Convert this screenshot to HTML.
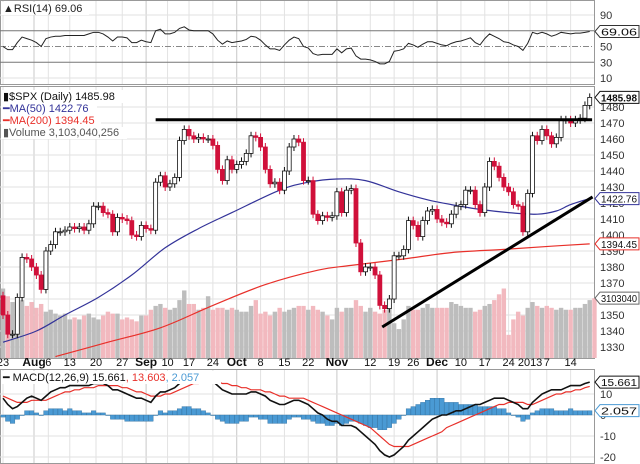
<!DOCTYPE html>
<html><head><meta charset="utf-8"><style>
body{margin:0;background:#fff;}
svg{display:block;font-family:"Liberation Sans",sans-serif;}
</style></head><body>
<svg id="c" width="640" height="464" viewBox="0 0 640 464"></svg>
<script>
const closes=[1350,1338,1338,1361,1386, 1385,1380,1375,1366,1390, 1394,1402,1402,1403,1405, 1404,1405,1403,1407,1418, 1418,1414,1413,1402,1411, 1410,1409,1400,1399,1406, 1404,1403,1433,1437, 1430,1432,1436,1459,1466, 1462,1460,1461,1460,1460, 1456,1441,1434,1447,1441, 1444,1446,1451,1462,1461, 1455,1441,1432,1433,1428, 1440,1455,1460,1458,1434, 1434,1413,1409,1412,1411, 1412,1427,1414, 1428,1429,1395,1377,1380, 1380,1375,1356,1354,1360, 1387,1387,1391,1409, 1406,1399,1409,1415,1416, 1410,1408,1407,1413,1418, 1419,1428,1428,1419,1414, 1430,1446,1443,1436,1430, 1427,1419,1418,1402, 1426,1462,1459,1466, 1462,1457,1461,1472,1472, 1470,1472,1473,1481,1486];
const volumes=[3.6,3.2,2.9,2.6,3.0, 2.7,2.9,2.6,2.8,2.4, 2.5,2.3,2.2,2.3,2.0, 2.1,2.0,2.2,2.3,2.1, 2.0,2.2,2.4,2.3,2.3, 2.0,2.1,2.0,1.9,2.2, 2.2,2.5,2.7,2.8, 2.6,2.5,2.6,3.0,3.5, 2.8,2.8,2.5,2.6,3.2, 2.5,2.6,2.6,2.5,2.6, 2.5,2.4,2.4,2.7,3.0, 2.3,2.4,2.2,2.4,2.6, 2.4,2.5,2.6,2.7,2.7, 2.5,2.7,2.5,2.4,2.2, 2.0,2.6,2.4, 2.6,2.6,3.0,2.7,2.4, 2.6,2.4,2.3,2.5,2.8, 1.8,1.5,2.0,2.7, 2.5,2.5,2.6,2.8,2.6, 2.6,2.6,2.6,2.9,2.8, 2.7,2.6,2.6,2.4,2.5, 2.7,2.8,3.0,3.3,3.6, 1.2,2.0,2.4,2.2, 2.6,2.9,2.7,2.6,2.7, 2.6,2.5,2.6,2.5,2.5, 2.6,2.6,2.8,3.0,3.1];
const ma50Days=[0,7,13,20,27,34,41,48,58,64,70,76,83,89,94,100,106,112,116,119,123];
const ma50Vals=[1333,1340,1350,1361,1375,1392,1404,1414,1428,1433,1435,1434,1427,1422,1419,1416,1414,1413,1415,1419,1422.76];
const ma200Days=[11,22,33,44,55,66,73,84,94,105,115,123];
const ma200Vals=[1324,1333,1342,1356,1369,1378,1381,1385,1389,1391,1393,1394.45];
const rsi=[50,46,46,55,62, 60,58,55,50,60, 62,63,63,64,64, 64,64,64,66,68, 68,66,62,57,62, 62,61,55,55,58, 56,55,70,72, 66,66,68,73,75, 71,70,70,70,70, 66,58,53,57,55, 56,57,59,63,62, 58,52,47,47,45, 52,58,62,60,50, 48,41,39,40,40, 40,47,42, 47,48,38,34,34, 33,31,28,28,31, 44,45,47,54, 52,49,53,56,56, 54,52,51,54,56, 57,59,61,55,52, 60,66,63,60,56, 55,52,50,45, 54,68,66,68, 66,63,65,68,67, 66,67,67,68,69.06];
const macd=[8,5,3,4,6, 8,9,8,7,9, 11,12,13,13,14, 14,14,14,14,15, 15,15,14,12,12, 11,10,9,8,8, 7,6,9,11, 11,12,13,15,17, 18,18,18,18,17, 16,14,12,11,10, 10,10,10,11,11, 10,9,7,6,5, 5,6,7,7,6, 5,3,1,0,-2, -3,-3,-5, -5,-5,-6,-8,-10, -12,-14,-17,-19,-20, -19,-17,-15,-12, -10,-8,-6,-4,-2, -1,0,0,1,2, 2,3,4,5,5, 6,7,8,8,8, 7,6,5,3, 3,6,8,10, 11,12,12,12,13, 14,14,14,15,15.661];
const signal=[9,8,7,6,6, 6,7,7,7,7, 8,9,10,11,11, 12,12,13,13,13, 14,14,14,14,14, 13,13,12,11,11, 10,9,9,9, 10,10,11,12,13, 14,15,15,16,16, 16,16,15,15,14, 14,13,13,12,12, 12,11,11,10,9, 9,8,8,8,8, 7,6,5,4,3, 2,1,0, -1,-2,-3,-4,-5, -6,-8,-10,-12,-14, -15,-15,-15,-15, -14,-13,-12,-11,-10, -9,-8,-6,-5,-4, -3,-2,-1,0,1, 2,3,4,5,5, 6,6,6,6, 5,5,6,7, 8,9,10,10,11, 11,12,12,13,13.603];
const dateLabels=["23","Aug","6","13","20","27","Sep","10","17","24","Oct","8","15","22","Nov","12","19","26","Dec","10","17","24","2013","7","14"];
const dateDays=[0,6.5,9.5,14,19.5,25,30,34.5,39,44,49,54,59,64,70,77,82,86,91,96,101,106,110.5,114,119];
const priceTicks=[1480,1470,1460,1450,1440,1430,1420,1410,1400,1390,1380,1370,1360,1350,1340,1330];
const rsiTicks=[90,70,50,30,10];
const macdTicks=[10,0,-10,-20];
const resistance=[32,123.5,1472];
const support=[79.5,1342.5,123.6,1423.8];

const NS="http://www.w3.org/2000/svg";
const svg=document.getElementById('c');
const PR=594;
const X=i=>3+i*4.77;
const YP=p=>123+(1470-p)*1.6;
const YR=v=>15+(90-v)*0.7875;
const YM=v=>415-v*2.1;
const YV=v=>358-v*19.3;
function mk(tag,attrs,parent){const e=document.createElementNS(NS,tag);for(const k in attrs)e.setAttribute(k,attrs[k]);(parent||svg).appendChild(e);return e;}
function txt(x,y,s,attrs,parent){const t=mk('text',Object.assign({x:x,y:y,'font-size':11,fill:'#222'},attrs),parent);t.textContent=s;return t;}
function smooth(pts){let d='M'+pts[0][0]+' '+pts[0][1];
for(let i=0;i<pts.length-1;i++){const p0=pts[Math.max(0,i-1)],p1=pts[i],p2=pts[i+1],p3=pts[Math.min(pts.length-1,i+2)];
const c1=[p1[0]+(p2[0]-p0[0])/6,p1[1]+(p2[1]-p0[1])/6],c2=[p2[0]-(p3[0]-p1[0])/6,p2[1]-(p3[1]-p1[1])/6];
d+=` C${c1[0]} ${c1[1]} ${c2[0]} ${c2[1]} ${p2[0]} ${p2[1]}`;}return d;}

const panels=[[0,0,84,'rsi-panel'],[0,86,358,'price-panel'],[0,369,463,'macd-panel']];
panels.forEach(p=>{const r=mk('rect',{x:0.5,y:p[1]+0.5,width:PR,height:p[2]-p[1],fill:'#fff',stroke:'#999'});

});
dateDays.forEach((d,k)=>{const bold=isNaN(+dateLabels[k]);
[[1,84],[87,358],[370,463]].forEach(s=>{mk('line',{x1:X(d),x2:X(d),y1:s[0],y2:s[1],stroke:bold?'#c8c8c8':'#e2e2e2'});});
const t=txt(X(d),366,dateLabels[k],{'text-anchor':'middle','font-size':bold?12:11,'font-weight':bold?'bold':'normal',fill:'#111'});

});
rsiTicks.forEach(v=>{const y=YR(v);
mk('line',{x1:0,x2:PR,y1:y,y2:y,stroke:(v==70||v==30)?'#777':(v==50?'#888':'#e2e2e2'),'stroke-dasharray':v==50?'6,2,1,2':''});
const t=txt(600,y+4,String(v),{fill:'#333'});

});
const rsiLine=mk('polyline',{points:rsi.map((v,i)=>X(i)+','+YR(v)).join(' '),fill:'none',stroke:'#222','stroke-width':1});


priceTicks.forEach(p=>{const y=YP(p);mk('line',{x1:0,x2:PR,y1:y,y2:y,stroke:'#e2e2e2'});
const t=txt(600,y+4,String(p),{fill:'#333'});

});
volumes.forEach((v,i)=>{const up=i==0||closes[i]>=closes[i-1];
const r=mk('rect',{x:X(i)-2.2,y:YV(v),width:4.4,height:358-YV(v),fill:up?'#bdbdbd':'#f2b9bf'});

});
const m200=mk('path',{d:smooth(ma200Vals.map((v,k)=>[X(ma200Days[k]),YP(v)])),fill:'none',stroke:'#e8302a','stroke-width':1.2});


const m50=mk('path',{d:smooth(ma50Vals.map((v,k)=>[X(ma50Days[k]),YP(v)])),fill:'none',stroke:'#333399','stroke-width':1.2});


closes.forEach((c,i)=>{const o=i==0?1362:closes[i-1];const up=c>=o;
const hi=Math.max(o,c)+2.5,lo=Math.min(o,c)-2.5;const col=up?'#111':'#d0103a';
const g=mk('g',{});


mk('line',{x1:X(i),x2:X(i),y1:YP(hi),y2:YP(lo),stroke:col},g);
const top=YP(Math.max(o,c)),bot=YP(Math.min(o,c));
mk('rect',{x:X(i)-2,y:top,width:4,height:Math.max(1,bot-top),fill:up?'#fff':'#d0103a',stroke:col,'stroke-width':0.8},g);});
const rl=mk('line',{x1:X(resistance[0]),x2:X(resistance[1]),y1:YP(resistance[2]),y2:YP(resistance[2]),stroke:'#000','stroke-width':3});


const sl=mk('line',{x1:X(support[0]),y1:YP(support[1]),x2:X(support[2]),y2:YP(support[3]),stroke:'#000','stroke-width':3});


macdTicks.forEach(v=>{const y=YM(v);mk('line',{x1:0,x2:PR,y1:y,y2:y,stroke:'#e2e2e2'});
const t=txt(600,y+4,String(v),{fill:'#333'});

});
macd.forEach((m,i)=>{const h=m-signal[i];const y0=YM(0),y1=YM(h);
const r=mk('rect',{x:X(i)-2.3,y:Math.min(y0,y1),width:4.6,height:Math.abs(y1-y0)||0.5,fill:'#4a9ad4',stroke:'#2f6f9f','stroke-width':0.4});

});
const sg=mk('polyline',{points:signal.map((v,i)=>X(i)+','+YM(v)).join(' '),fill:'none',stroke:'#e8302a','stroke-width':1.2});


const ml=mk('polyline',{points:macd.map((v,i)=>X(i)+','+YM(v)).join(' '),fill:'none',stroke:'#111','stroke-width':1.6});


function tag(y,s,col,name){const g=mk('g',{});


mk('path',{d:`M595 ${y} L600 ${y-6} L639 ${y-6} L639 ${y+6} L600 ${y+6} Z`,fill:'#fff',stroke:col},g);
txt(601,y+4,s,{fill:'#111','font-size':10,'font-weight':name=='price-tag'?'bold':'normal',textLength:36,lengthAdjust:'spacingAndGlyphs'},g);}
tag(YR(69.06),'69.06','#333','rsi-tag');
tag(YP(1485.98),'1485.98','#111','price-tag');
tag(YP(1422.76),'1422.76','#333399','ma50-tag');
tag(YP(1394.45),'1394.45','#e8302a','ma200-tag');
tag(YV(3.103),'3103040','#666','volume-tag');
tag(YM(15.661),'15.661','#111','macd-tag');
tag(YM(2.057),'2.057','#4a9ad4','histogram-tag');
function legend(x,y,w,h,parts,name){const g=mk('g',{});


mk('rect',{x:x,y:y,width:w,height:h,fill:'#fff'},g);
const t=mk('text',{x:x+2,y:y+h-3,'font-size':11},g);
parts.forEach(p=>{const s=document.createElementNS(NS,'tspan');s.setAttribute('fill',p[1]);s.textContent=p[0];t.appendChild(s);});}
legend(1,2,88,13,[['▲RSI(14) 69.06','#222']],'rsi-legend');
legend(1,90,126,13,[['▮$SPX (Daily) 1485.98','#111']],'price-legend');
legend(1,103,96,12,[['━MA(50) 1422.76','#333399']],'ma50-legend');
legend(1,115,100,12,[['━MA(200) 1394.45','#e8302a']],'ma200-legend');
legend(1,127,126,12,[['▮Volume 3,103,040,256','#555']],'volume-legend');
legend(1,371,220,13,[['━ MACD(12,26,9) 15.661','#111'],[', 13.603','#e8302a'],[', 2.057','#4a9ad4']],'macd-legend');
</script>
</body></html>
